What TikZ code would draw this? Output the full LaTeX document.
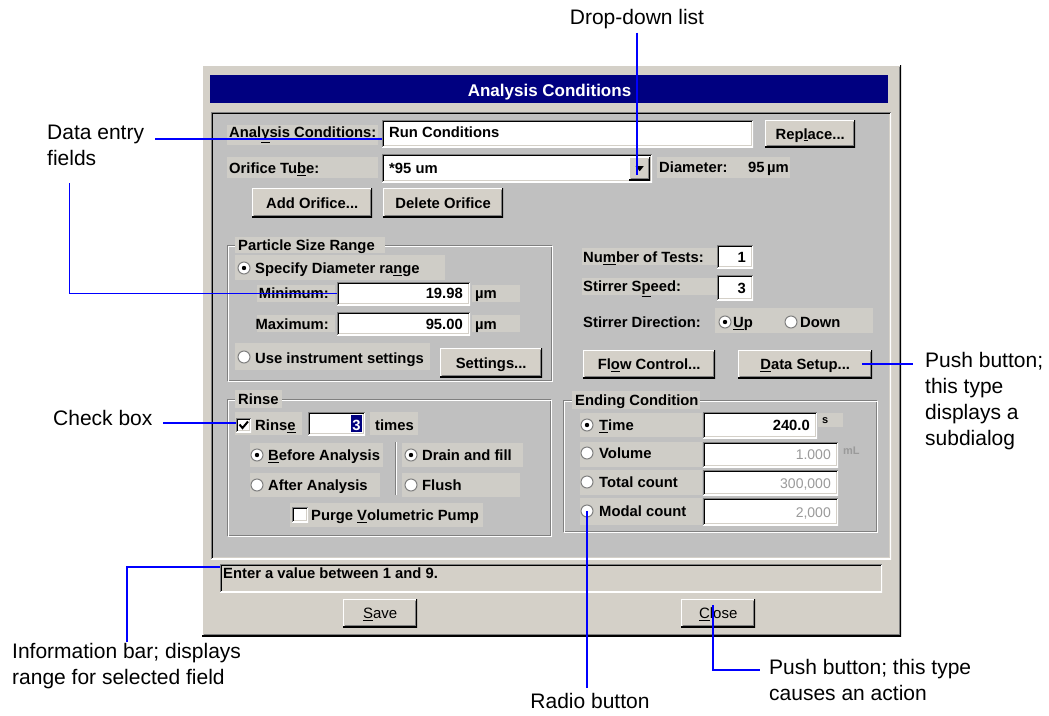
\documentclass[tikz,border=0pt]{standalone}
\usepackage{fontspec}
\setmainfont{Liberation Sans}
\definecolor{face}{HTML}{D4D0C8}
\definecolor{panelc}{HTML}{C0C0C0}
\definecolor{shadow}{HTML}{808080}
\definecolor{navyc}{HTML}{000080}
\definecolor{calloutc}{HTML}{0000FF}
\definecolor{lblbg}{HTML}{CFCDC7}
\definecolor{disabledc}{HTML}{9A9A9A}
\newcommand\acc[1]{\underline{#1}}
\newcommand\etched[4]{%
  \draw[shadow,line width=1pt] (#1+0.5,#2+0.5) rectangle (#3-1.5,#4-1.5);
  \draw[white,line width=1pt] (#1+1.5,#2+1.5) rectangle (#3-0.5,#4-0.5);}
\newcommand\bgbox[4]{\fill[lblbg] (#1,#2) rectangle (#3,#4);}
\newcommand\uibox[6]{\node[#1, minimum width=#4pt, minimum height=#5pt, anchor=north west] (#6) at (#2,#3) {};}
\tikzset{
  dlg/.style={font=\fontsize{14.8}{17}\selectfont\bfseries, inner sep=0pt, text height=10.6pt, text depth=0pt},
  dlgsmall/.style={font=\fontsize{11}{13}\selectfont\bfseries, inner sep=0pt, text height=8pt, text depth=0pt},
  dlgr/.style={font=\fontsize{15}{17}\selectfont, inner sep=0pt, text height=10.7pt, text depth=0pt},
  dis/.style={font=\fontsize{14}{17}\selectfont, text=disabledc, inner sep=0pt, text height=10pt, text depth=0pt},
  anno/.style={font=\fontsize{21}{26}\selectfont, inner sep=0pt, align=left},
  callout/.style={draw=calloutc, line width=2pt},
  calloutthin/.style={draw=calloutc, line width=1pt},
  raisededge/.style={path picture={
    \draw[white,line width=2pt] (path picture bounding box.south west) |- (path picture bounding box.north east);
    \draw[black,line width=2pt] (path picture bounding box.south west) -| (path picture bounding box.north east);
    \draw[shadow,line width=1pt] ([shift={(1.5pt,1.5pt)}]path picture bounding box.south west) -| ([shift={(-1.5pt,-1.5pt)}]path picture bounding box.north east);
  }},
  sunkedge/.style={path picture={
    \draw[white,line width=2pt] (path picture bounding box.south west) -| (path picture bounding box.north east);
    \draw[shadow,line width=2pt] (path picture bounding box.south west) |- (path picture bounding box.north east);
    \draw[face,line width=1pt] ([shift={(1.5pt,1.5pt)}]path picture bounding box.south west) -| ([shift={(-1.5pt,-1.5pt)}]path picture bounding box.north east);
    \draw[black,line width=1pt] ([shift={(1.5pt,1.5pt)}]path picture bounding box.south west) |- ([shift={(-1.5pt,-1.5pt)}]path picture bounding box.north east);
  }},
  raised/.style={fill=face, inner sep=0pt, raisededge},
  sunken/.style={fill=white, inner sep=0pt, sunkedge},
  sunkpanel/.style={fill=panelc, inner sep=0pt, sunkedge},
  sunkface/.style={fill=face, inner sep=0pt, sunkedge},
  radio/.style={circle, minimum size=12pt, inner sep=0pt, fill=white, draw=shadow, line width=1pt},
}
\begin{document}
\begin{tikzpicture}[x=1pt,y=-1pt]
\useasboundingbox (0,0) rectangle (1049,715);
\fill[white] (0,0) rectangle (1049,715);

% dialog frame, title, panel
\uibox{raised}{202}{65}{699}{571}{dialog}
\node[fill=navyc, inner sep=0pt, minimum width=678pt, minimum height=28pt, anchor=north west] (titlebar) at (210,75) {};
\node[font=\fontsize{17}{20}\selectfont\bfseries, text=white, inner sep=0pt, text height=12.2pt, text depth=0pt] (title) at (549.5,90.5) {Analysis Conditions};
\uibox{sunkpanel}{211}{112}{680}{447}{panel}

% group boxes
\etched{227}{245}{553}{382}
\etched{227}{399}{552}{537}
\etched{563}{400}{878}{533}
\draw[shadow,line width=1pt] (395.5,442) -- (395.5,495);
\draw[white,line width=1pt] (396.5,442) -- (396.5,495);

% label backgrounds
\bgbox{227}{125}{378}{145}
\bgbox{227}{157}{378}{178}
\bgbox{657}{157}{790}{178}
\bgbox{235}{237}{385}{253}
\bgbox{235}{255}{445}{280}
\bgbox{257}{285}{335}{302}
\bgbox{472}{285}{520}{302}
\bgbox{257}{315}{335}{332}
\bgbox{472}{315}{520}{332}
\bgbox{235}{343}{430}{370}
\bgbox{582}{248}{717}{265}
\bgbox{582}{278}{717}{295}
\bgbox{715}{308}{873}{333}
\bgbox{235}{390}{282}{408}
\bgbox{235}{412}{302}{435}
\bgbox{370}{412}{418}{435}
\bgbox{250}{443}{383}{467}
\bgbox{250}{473}{380}{497}
\bgbox{402}{443}{523}{467}
\bgbox{402}{473}{520}{497}
\bgbox{290}{503}{483}{527}
\bgbox{572}{391}{700}{409}
\bgbox{580}{413}{702}{437}
\bgbox{818}{413}{843}{427}
\bgbox{580}{442}{702}{467}
\bgbox{580}{470}{702}{495}
\bgbox{580}{498}{702}{525}

% fields and buttons
\uibox{sunken}{382}{120}{371}{27}{frun}
\uibox{raised}{765}{120}{90}{27}{replace}
\uibox{sunken}{382}{154}{270}{28}{fcombo}
\uibox{raised}{629}{157}{21}{23}{ddbtn}
\uibox{raised}{252}{188}{120}{29}{addbtn}
\uibox{raised}{383}{188}{120}{29}{delbtn}
\uibox{sunken}{337}{282}{133}{23}{fmin}
\uibox{sunken}{337}{312}{133}{23}{fmax}
\uibox{raised}{440}{348}{102}{29}{setbtn}
\uibox{sunken}{717}{245}{36}{23}{ftests}
\uibox{sunken}{717}{275}{36}{25}{fspeed}
\uibox{raised}{583}{350}{132}{28}{flowbtn}
\uibox{raised}{738}{350}{134}{28}{dsbtn}
\uibox{sunken}{236}{418}{15}{14}{chk}
\uibox{sunken}{308}{412}{57}{23}{ftimes}
\uibox{sunken}{292}{507}{16}{15}{purgechk}
\uibox{sunken}{703}{412}{114}{26}{ftime}
\uibox{sunken}{703}{442}{135}{25}{fvol}
\uibox{sunken}{703}{470}{135}{25}{ftot}
\uibox{sunken}{703}{498}{135}{27}{fmod}
\uibox{sunkface}{220}{564}{662}{28}{infobar}
\uibox{raised}{343}{599}{74}{28}{savebtn}
\uibox{raised}{681}{599}{74}{28}{closebtn}

% drop-down arrow
\fill[black] (ddbtn.center) ++(-4,-2.5) -- ++(8,0) -- ++(-4,5) -- cycle;
% check mark
\draw[black,line width=2pt] (239.5,424.5) -- (242.5,428) -- (248,421.5);
% selected text in times field
\fill[navyc] (351,415) rectangle (362,432);
\node[dlg,text=white] (ttimes) at (356.5,425) {3};

% radio buttons
\node[radio] (rspec) at (244,268) {};
\node[radio] (ruse) at (244,357) {};
\node[radio] (rup) at (725,322) {};
\node[radio] (rdown) at (791,322) {};
\node[radio] (rbefore) at (257,455) {};
\node[radio] (rafter) at (257,485) {};
\node[radio] (rdrain) at (411,455) {};
\node[radio] (rflush) at (411,485) {};
\node[radio] (rtime) at (587,425) {};
\node[radio] (rvol) at (587,453) {};
\node[radio] (rtot) at (587,482) {};
\node[radio] (rmodal) at (587,511) {};
\foreach \r in {rspec,rup,rbefore,rdrain,rtime} \fill[black] (\r) circle (2.2);

% texts
\node[dlg,anchor=west] (lanalysis) at (229,132) {Anal\acc{y}sis Conditions:};
\node[dlg,anchor=west] (trun) at (389,132) {Run Conditions};
\node[dlg] (treplace) at (replace.center) {Rep\acc{l}ace...};
\node[dlg,anchor=west] (lorifice) at (229,168) {Orifice Tu\acc{b}e:};
\node[dlg,anchor=west] (tcombo) at (389,168) {*95 um};
\node[dlg,anchor=west] (ldiam) at (659,167.5) {Diameter:};
\node[dlg,anchor=west] (tdiam) at (748,167.5) {95\,µm};
\node[dlg] (tadd) at (addbtn.center) {Add Orifice...};
\node[dlg] (tdel) at (delbtn.center) {Delete Orifice};
\node[dlg,anchor=west] (tpsr) at (238,245) {Particle Size Range};
\node[dlg,anchor=west] (tspec) at (255,268) {Specify Diameter ra\acc{n}ge};
\node[dlg,anchor=east] (lmin) at (329,293) {Minimum:};
\node[dlg,anchor=east] (tmin) at (463,293) {19.98};
\node[dlg,anchor=west] (umin) at (475,293) {µm};
\node[dlg,anchor=east] (lmax) at (329,324) {Maximum:};
\node[dlg,anchor=east] (tmax) at (463,324) {95.00};
\node[dlg,anchor=west] (umax) at (475,324) {µm};
\node[dlg,anchor=west] (tuse) at (255,358) {Use instrument settings};
\node[dlg] (tset) at (setbtn.center) {Settings...};
\node[dlg,anchor=west] (ltests) at (583,257) {Nu\acc{m}ber of Tests:};
\node[dlg,anchor=east] (ttests) at (746,257) {1};
\node[dlg,anchor=west] (lspeed) at (583,286) {Stirrer S\acc{p}eed:};
\node[dlg,anchor=east] (tspeed) at (746,288) {3};
\node[dlg,anchor=west] (ldir) at (583,322.5) {Stirrer Direction:};
\node[dlg,anchor=west] (tup) at (733,322.5) {\acc{U}p};
\node[dlg,anchor=west] (tdown) at (800,322.5) {Down};
\node[dlg] (tflow) at (flowbtn.center) {Fl\acc{o}w Control...};
\node[dlg] (tds) at (dsbtn.center) {\acc{D}ata Setup...};
\node[dlg,anchor=west] (trinseg) at (238,399.5) {Rinse};
\node[dlg,anchor=west] (trinse) at (255,425) {Rins\acc{e}};
\node[dlg,anchor=west] (ttimesl) at (375,425) {times};
\node[dlg,anchor=west] (tbefore) at (268,455) {\acc{B}efore Analysis};
\node[dlg,anchor=west] (tafter) at (268,485) {After Analysis};
\node[dlg,anchor=west] (tdrain) at (422,455) {Drain and fill};
\node[dlg,anchor=west] (tflush) at (422,485) {Flush};
\node[dlg,anchor=west] (tpurge) at (311,515) {Purge \acc{V}olumetric Pump};
\node[dlg,anchor=west] (tend) at (575,400) {Ending Condition};
\node[dlg,anchor=west] (ttime) at (599,425) {\acc{T}ime};
\node[dlg,anchor=east] (ttimev) at (810,425) {240.0};
\node[dlgsmall,anchor=west] (ts) at (822,419) {s};
\node[dlg,anchor=west] (tvol) at (599,453) {Volume};
\node[dis,anchor=east] (tvolv) at (831,454) {1.000};
\node[dis,anchor=west,font=\fontsize{11}{13}\selectfont\bfseries] (tml) at (843,449) {mL};
\node[dlg,anchor=west] (ttot) at (599,482) {Total count};
\node[dis,anchor=east] (ttotv) at (831,483) {300,000};
\node[dlg,anchor=west] (tmod) at (599,511.5) {Modal count};
\node[dis,anchor=east] (tmodv) at (831,512) {2,000};
\node[dlg,anchor=west] (tinfo) at (223,573.5) {Enter a value between 1 and 9.};
\node[dlgr] (tsave) at (savebtn.center) {\acc{S}ave};
\node[dlgr] (tclose) at (closebtn.center) {\acc{C}lose};

% annotations
\node[anno,anchor=base] (ddlbl) at (637,24) {Drop-down list};
\coordinate (ddtip) at (637,175);
\draw[callout] ([yshift=-4pt]ddlbl.south) -- (ddtip);

\node[anno,anchor=north west] (delbl) at (47,125) {Data entry\\fields};
\coordinate (deA) at (155,139);
\draw[callout] (deA) -- (deA -| frun.west);
\coordinate (deB) at (69,183);
\draw[calloutthin] (deB) |- (fmin.west);

\node[anno,anchor=base west] (cblbl) at (53,425) {Check box};
\coordinate (cbA) at (163,423);
\draw[callout] (cbA) -- (cbA -| chk.west);

\node[anno,anchor=north west] (iblbl) at (12,643) {Information bar; displays\\range for selected field};
\coordinate (ibA) at (127,642);
\draw[callout] (ibA) |- ([yshift=-3pt]infobar.north west);

\node[anno,anchor=base] (rblbl) at (590,708) {Radio button};
\coordinate (rbA) at (587,688);
\draw[callout] (rmodal.center) -- (rbA);

\node[anno,anchor=north west] (palbl) at (769,659) {Push button; this type\\causes an action};
\coordinate (paA) at (760,670);
\coordinate (paB) at (713,605);
\draw[callout] (paB) |- (paA);

\node[anno,anchor=north west] (pslbl) at (925,352) {Push button;\\this type\\displays a\\subdialog};
\draw[callout] ([xshift=-10pt]dsbtn.east) -- ++(51,0);
\end{tikzpicture}
\end{document}
